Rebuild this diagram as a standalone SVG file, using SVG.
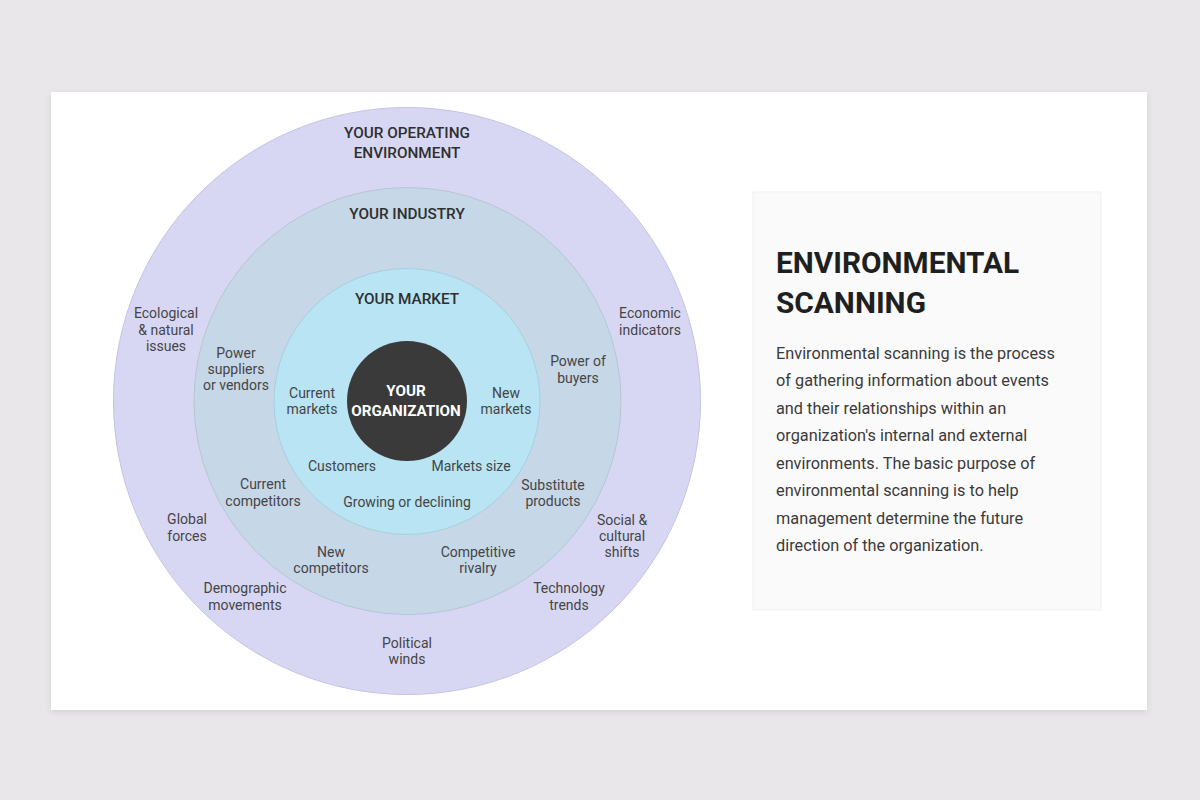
<svg xmlns="http://www.w3.org/2000/svg" width="1200" height="800" viewBox="0 0 1200 800">
<defs>
<filter id="sh" x="-5%" y="-5%" width="110%" height="115%">
<feDropShadow dx="0" dy="2" stdDeviation="3" flood-color="#000" flood-opacity="0.10"/>
</filter>
<style>
.lbl{font-family:Roboto,"Liberation Sans",sans-serif;font-size:14px;fill:#454545;text-anchor:middle}
.hd{font-family:Roboto,"Liberation Sans",sans-serif;font-size:15.3px;font-weight:500;fill:#2f2f2f;text-anchor:middle}
.org{font-family:Roboto,"Liberation Sans",sans-serif;font-size:15.2px;font-weight:700;fill:#ffffff;text-anchor:middle}
.ttl{font-family:Roboto,"Liberation Sans",sans-serif;font-size:29.8px;font-weight:700;fill:#1f1f1f}
.body{font-family:Roboto,"Liberation Sans",sans-serif;font-size:16.3px;fill:#3a3a3a}
</style>
</defs>
<rect width="1200" height="800" fill="#e9e7e9"/>
<rect x="51" y="92" width="1096" height="618" fill="#ffffff" filter="url(#sh)"/>

<g id="environment">
<circle cx="407" cy="401" r="293.5" fill="#d8d7f3" stroke="#c4c3e2" stroke-width="1"/>
<text class="hd" x="407" y="138">YOUR OPERATING</text>
<text class="hd" x="407" y="158">ENVIRONMENT</text>
<text class="lbl" x="166" y="318">Ecological</text>
<text class="lbl" x="166" y="335">&amp; natural</text>
<text class="lbl" x="166" y="351">issues</text>
<text class="lbl" x="650" y="318">Economic</text>
<text class="lbl" x="650" y="335">indicators</text>
<text class="lbl" x="187" y="524">Global</text>
<text class="lbl" x="187" y="541">forces</text>
<text class="lbl" x="622" y="525">Social &amp;</text>
<text class="lbl" x="622" y="541">cultural</text>
<text class="lbl" x="622" y="557">shifts</text>
<text class="lbl" x="245" y="593">Demographic</text>
<text class="lbl" x="245" y="610">movements</text>
<text class="lbl" x="569" y="593">Technology</text>
<text class="lbl" x="569" y="610">trends</text>
<text class="lbl" x="407" y="648">Political</text>
<text class="lbl" x="407" y="664">winds</text>
</g>

<g id="industry">
<circle cx="407.5" cy="401" r="213.5" fill="#c6d7e8" stroke="#b5c6d6" stroke-width="1"/>
<text class="hd" x="407" y="219">YOUR INDUSTRY</text>
<text class="lbl" x="236" y="358">Power</text>
<text class="lbl" x="236" y="374">suppliers</text>
<text class="lbl" x="236" y="390">or vendors</text>
<text class="lbl" x="578" y="366">Power of</text>
<text class="lbl" x="578" y="383">buyers</text>
<text class="lbl" x="263" y="489">Current</text>
<text class="lbl" x="263" y="506">competitors</text>
<text class="lbl" x="553" y="490">Substitute</text>
<text class="lbl" x="553" y="506">products</text>
<text class="lbl" x="331" y="557">New</text>
<text class="lbl" x="331" y="573">competitors</text>
<text class="lbl" x="478" y="557">Competitive</text>
<text class="lbl" x="478" y="573">rivalry</text>
</g>

<g id="market">
<circle cx="407" cy="401.5" r="133" fill="#b8e4f4" stroke="#a8cfdf" stroke-width="1"/>
<text class="hd" x="407" y="304">YOUR MARKET</text>
<text class="lbl" x="312" y="398">Current</text>
<text class="lbl" x="312" y="414">markets</text>
<text class="lbl" x="506" y="398">New</text>
<text class="lbl" x="506" y="414">markets</text>
<text class="lbl" x="342" y="471">Customers</text>
<text class="lbl" x="471" y="471">Markets size</text>
<text class="lbl" x="407" y="507">Growing or declining</text>
</g>

<g id="organization">
<circle cx="407" cy="401" r="60" fill="#3a3a3a"/>
<text class="org" x="406" y="396">YOUR</text>
<text class="org" x="406" y="416">ORGANIZATION</text>
</g>

<g id="connectors"></g>

<g id="panel">
<rect x="753" y="192" width="348" height="418" fill="#fafafa" stroke="#f0f0f0" stroke-width="1"/>
<text class="ttl" x="776" y="273">ENVIRONMENTAL</text>
<text class="ttl" x="776" y="313">SCANNING</text>
<text class="body" x="776" y="359">Environmental scanning is the process</text>
<text class="body" x="776" y="386">of gathering information about events</text>
<text class="body" x="776" y="414">and their relationships within an</text>
<text class="body" x="776" y="441">organization's internal and external</text>
<text class="body" x="776" y="469">environments. The basic purpose of</text>
<text class="body" x="776" y="496">environmental scanning is to help</text>
<text class="body" x="776" y="524">management determine the future</text>
<text class="body" x="776" y="551">direction of the organization.</text>
</g>
</svg>
